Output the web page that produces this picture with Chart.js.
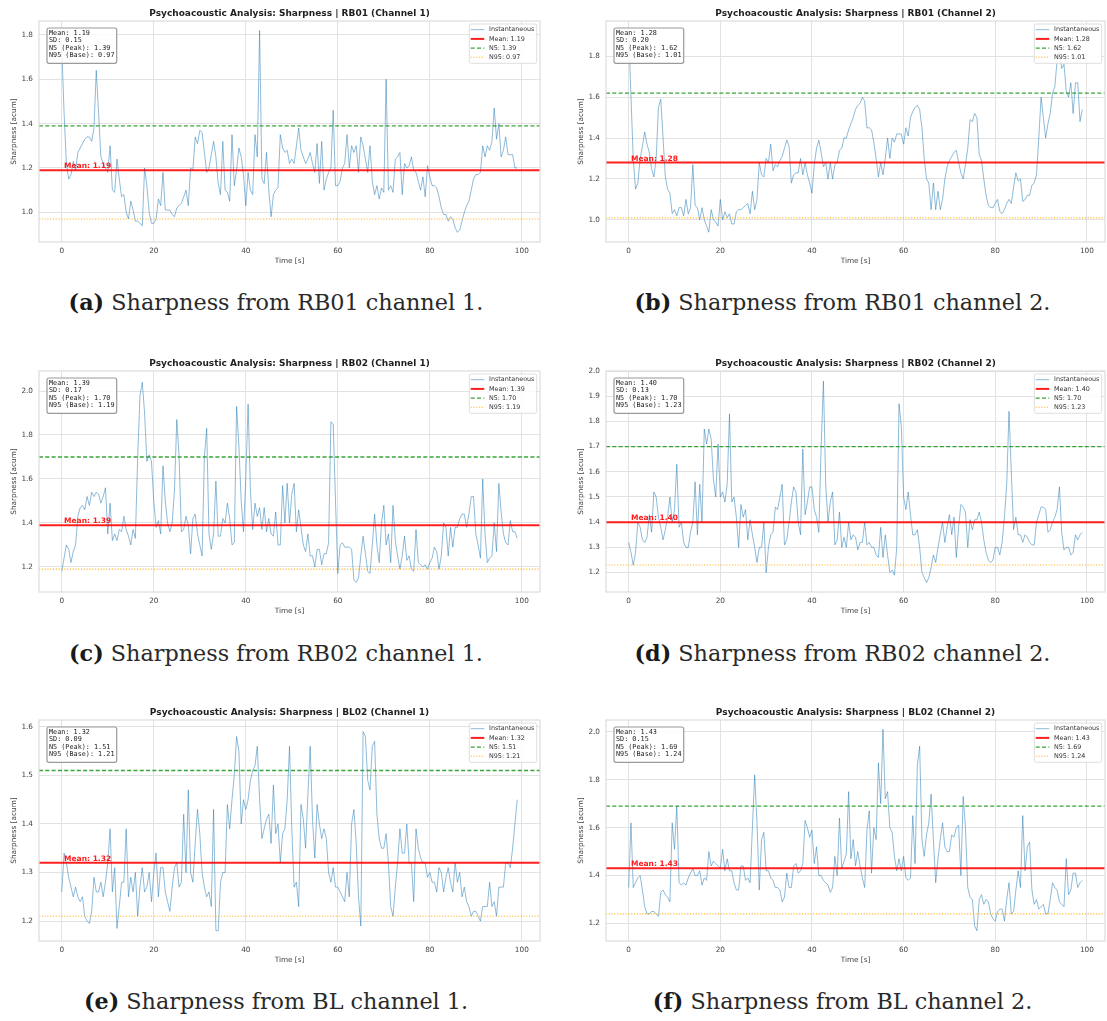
<!DOCTYPE html>
<html>
<head>
<meta charset="utf-8">
<script src="https://cdn.jsdelivr.net/npm/chart.js@4.4.1/dist/chart.umd.min.js"></script>
<style>
  html, body { margin: 0; padding: 0; background: #fff; }
  body { width: 1107px; height: 1021px; position: relative; overflow: hidden; }
  canvas.panel { position: absolute; }
  .caption {
    position: absolute;
    font-family: "DejaVu Serif", serif;
    font-size: 22.3px;
    line-height: 1;
    color: #2a2a2a;
    white-space: nowrap;
    transform: translate(-50%, -50%);
  }
  .caption b { font-weight: bold; color: #1a1a1a; }
</style>
</head>
<body>
<script>
// Sharpness tracks (acum), one value every SAMPLE_PERIOD_S seconds from t = 0 s
const SAMPLE_PERIOD_S = 0.5;

const rb01Ch1 = [
  1.74, 1.45, 1.22, 1.15, 1.17, 1.23, 1.19, 1.27, 1.29, 1.31,
  1.33, 1.34, 1.34, 1.32, 1.38, 1.64, 1.45, 1.25, 1.22, 1.20,
  1.18, 1.30, 1.10, 1.09, 1.24, 1.15, 1.07, 1.08, 1.00, 0.97,
  1.05, 1.01, 0.96, 0.96, 0.95, 0.94, 1.20, 1.12, 1.00, 0.95,
  0.95, 0.97, 1.06, 1.03, 1.18, 1.01, 1.01, 1.01, 0.99, 0.98,
  1.02, 1.03, 1.04, 1.07, 1.10, 1.03, 1.20, 1.19, 1.34, 1.31,
  1.37, 1.36, 1.27, 1.18, 1.20, 1.26, 1.32, 1.25, 1.13, 1.08,
  1.32, 1.10, 1.09, 1.05, 1.35, 1.12, 1.19, 1.29, 1.25, 1.17,
  1.03, 1.18, 1.10, 1.08, 1.35, 1.25, 1.82, 1.15, 1.13, 1.27,
  1.10, 0.98, 1.08, 1.10, 1.11, 1.35, 1.29, 1.27, 1.28, 1.22,
  1.24, 1.22, 1.30, 1.38, 1.28, 1.25, 1.22, 1.24, 1.27, 1.22,
  1.18, 1.31, 1.13, 1.32, 1.10, 1.15, 1.18, 1.20, 1.46, 1.12,
  1.12, 1.14, 1.20, 1.22, 1.35, 1.20, 1.30, 1.27, 1.30, 1.18,
  1.34, 1.30, 1.24, 1.18, 1.30, 1.14, 1.08, 1.12, 1.06, 1.11,
  1.09, 1.60, 1.10, 1.12, 1.09, 1.24, 1.25, 1.27, 1.08, 1.22,
  1.20, 1.21, 1.25, 1.19, 1.18, 1.14, 1.10, 1.16, 1.07, 1.21,
  1.16, 1.12, 1.12, 1.11, 1.07, 1.02, 0.99, 0.99, 0.96, 0.98,
  0.97, 0.93, 0.91, 0.92, 0.96, 1.00, 1.03, 1.05, 1.10, 1.15,
  1.17, 1.17, 1.18, 1.30, 1.25, 1.30, 1.28, 1.32, 1.47, 1.33,
  1.40, 1.25, 1.28, 1.34, 1.26, 1.26, 1.26, 1.20, 1.20
];

const rb01Ch2 = [
  1.92, 1.60, 1.30, 1.15, 1.18, 1.30, 1.36, 1.43, 1.37, 1.33,
  1.25, 1.21, 1.30, 1.55, 1.59, 1.40, 1.21, 1.15, 1.13, 1.03,
  1.05, 1.02, 1.06, 1.06, 1.02, 1.10, 1.03, 1.06, 1.27, 1.07,
  1.06, 1.00, 1.06, 1.00, 0.97, 0.94, 1.05, 1.00, 0.99, 0.97,
  1.10, 1.00, 1.04, 1.01, 1.03, 0.98, 0.98, 1.04, 1.05, 1.05,
  1.06, 1.07, 1.08, 1.03, 1.14, 1.05, 1.10, 1.28, 1.22, 1.21,
  1.30, 1.28, 1.37, 1.24, 1.27, 1.26, 1.29, 1.31, 1.35, 1.39,
  1.36, 1.18, 1.22, 1.23, 1.23, 1.30, 1.22, 1.28, 1.22, 1.18,
  1.13, 1.27, 1.35, 1.39, 1.33, 1.26, 1.28, 1.20, 1.28, 1.20,
  1.27, 1.28, 1.34, 1.35, 1.40, 1.40, 1.44, 1.47, 1.50, 1.54,
  1.56, 1.57, 1.60, 1.58, 1.45, 1.45, 1.44, 1.38, 1.30, 1.21,
  1.28, 1.22, 1.30, 1.40, 1.30, 1.40, 1.38, 1.42, 1.42, 1.42,
  1.37, 1.45, 1.41, 1.50, 1.53, 1.55, 1.56, 1.54, 1.45, 1.30,
  1.20, 1.18, 1.05, 1.18, 1.05, 1.14, 1.05, 1.10, 1.20, 1.26,
  1.29, 1.31, 1.33, 1.34, 1.28, 1.23, 1.20, 1.27, 1.35, 1.49,
  1.48, 1.52, 1.50, 1.32, 1.29, 1.20, 1.12, 1.07, 1.06, 1.06,
  1.08, 1.10, 1.04, 1.03, 1.05, 1.08, 1.10, 1.08, 1.16, 1.23,
  1.19, 1.20, 1.09, 1.10, 1.12, 1.12, 1.17, 1.18, 1.22, 1.40,
  1.60, 1.50, 1.40, 1.47, 1.52, 1.62, 1.65, 1.78, 1.82, 1.74,
  1.76, 1.63, 1.60, 1.67, 1.52, 1.67, 1.67, 1.48, 1.54
];

const rb02Ch1 = [
  1.18, 1.24, 1.30, 1.28, 1.22, 1.27, 1.30, 1.43, 1.47, 1.48,
  1.46, 1.52, 1.48, 1.54, 1.52, 1.54, 1.53, 1.49, 1.52, 1.56,
  1.35, 1.49, 1.32, 1.35, 1.32, 1.37, 1.36, 1.43, 1.37, 1.34,
  1.30, 1.37, 1.33, 1.70, 1.98, 2.04, 1.90, 1.68, 1.71, 1.68,
  1.50, 1.38, 1.41, 1.35, 1.66, 1.50, 1.40, 1.36, 1.40, 1.55,
  1.87, 1.70, 1.36, 1.37, 1.43, 1.39, 1.26, 1.42, 1.44, 1.35,
  1.30, 1.25, 1.70, 1.83, 1.35, 1.28, 1.35, 1.59, 1.34, 1.34,
  1.42, 1.40, 1.49, 1.42, 1.30, 1.31, 1.93, 1.75, 1.50, 1.36,
  1.60, 1.94, 1.55, 1.37, 1.49, 1.43, 1.47, 1.37, 1.47, 1.36,
  1.42, 1.35, 1.34, 1.45, 1.30, 1.30, 1.57, 1.40, 1.58, 1.40,
  1.53, 1.58, 1.36, 1.46, 1.38, 1.30, 1.27, 1.35, 1.25, 1.25,
  1.20, 1.28, 1.28, 1.21, 1.26, 1.26, 1.31, 1.86, 1.85, 1.50,
  1.17, 1.30, 1.31, 1.29, 1.29, 1.29, 1.28, 1.14, 1.13, 1.15,
  1.25, 1.34, 1.26, 1.18, 1.17, 1.30, 1.44, 1.30, 1.22, 1.40,
  1.48, 1.30, 1.35, 1.22, 1.48, 1.32, 1.25, 1.19, 1.25, 1.34,
  1.23, 1.25, 1.19, 1.18, 1.37, 1.22, 1.21, 1.20, 1.21, 1.19,
  1.22, 1.24, 1.29, 1.27, 1.19, 1.25, 1.40, 1.38, 1.25, 1.38,
  1.29, 1.38, 1.38, 1.42, 1.44, 1.44, 1.38, 1.44, 1.52, 1.52,
  1.35, 1.30, 1.24, 1.60, 1.35, 1.22, 1.24, 1.25, 1.40, 1.27,
  1.58, 1.45, 1.35, 1.31, 1.30, 1.41, 1.36, 1.36, 1.33
];

const rb02Ch2 = [
  1.32, 1.28, 1.23, 1.28, 1.40, 1.38, 1.33, 1.32, 1.34, 1.43,
  1.36, 1.52, 1.50, 1.42, 1.38, 1.33, 1.37, 1.42, 1.50, 1.40,
  1.45, 1.63, 1.38, 1.40, 1.32, 1.30, 1.30, 1.36, 1.40, 1.56,
  1.35, 1.55, 1.40, 1.77, 1.71, 1.77, 1.73, 1.57, 1.50, 1.71,
  1.50, 1.52, 1.48, 1.55, 1.83, 1.48, 1.50, 1.42, 1.30, 1.47,
  1.42, 1.45, 1.33, 1.41, 1.35, 1.30, 1.24, 1.30, 1.30, 1.40,
  1.20, 1.30, 1.35, 1.36, 1.46, 1.45, 1.50, 1.55, 1.31, 1.33,
  1.40, 1.48, 1.54, 1.52, 1.40, 1.35, 1.69, 1.43, 1.48, 1.54,
  1.54, 1.45, 1.42, 1.36, 1.70, 1.96, 1.55, 1.40, 1.48, 1.52,
  1.31, 1.33, 1.44, 1.30, 1.34, 1.30, 1.40, 1.33, 1.35, 1.34,
  1.29, 1.32, 1.32, 1.40, 1.31, 1.32, 1.30, 1.30, 1.27, 1.26,
  1.38, 1.26, 1.35, 1.27, 1.20, 1.21, 1.19, 1.30, 1.87, 1.78,
  1.50, 1.45, 1.52, 1.43, 1.35, 1.35, 1.37, 1.30, 1.20, 1.18,
  1.16, 1.18, 1.22, 1.27, 1.24, 1.30, 1.35, 1.40, 1.32, 1.38,
  1.43, 1.35, 1.42, 1.26, 1.38, 1.47, 1.46, 1.44, 1.30, 1.41,
  1.37, 1.41, 1.41, 1.44, 1.40, 1.33, 1.28, 1.25, 1.24, 1.25,
  1.30, 1.30, 1.27, 1.32, 1.42, 1.55, 1.84, 1.60, 1.37, 1.42,
  1.35, 1.35, 1.32, 1.35, 1.34, 1.32, 1.31, 1.31, 1.40, 1.43,
  1.46, 1.46, 1.45, 1.36, 1.37, 1.40, 1.42, 1.45, 1.54, 1.36,
  1.29, 1.30, 1.30, 1.27, 1.28, 1.35, 1.33, 1.35, 1.36
];

const bl02Ch1 = [
  1.26, 1.34, 1.32, 1.29, 1.27, 1.25, 1.27, 1.25, 1.24, 1.25,
  1.21, 1.20, 1.195, 1.22, 1.29, 1.26, 1.26, 1.28, 1.25, 1.28,
  1.32, 1.39, 1.26, 1.31, 1.185, 1.23, 1.28, 1.28, 1.39, 1.25,
  1.29, 1.26, 1.30, 1.21, 1.27, 1.31, 1.26, 1.27, 1.30, 1.24,
  1.30, 1.34, 1.25, 1.31, 1.31, 1.26, 1.24, 1.22, 1.27, 1.31,
  1.32, 1.27, 1.28, 1.42, 1.30, 1.47, 1.30, 1.28, 1.36, 1.43,
  1.38, 1.30, 1.27, 1.25, 1.26, 1.23, 1.43, 1.18, 1.18, 1.28,
  1.30, 1.30, 1.44, 1.39, 1.45, 1.50, 1.58, 1.55, 1.40, 1.45,
  1.43, 1.45, 1.49, 1.51, 1.52, 1.56, 1.45, 1.37, 1.39, 1.41,
  1.42, 1.36, 1.48, 1.38, 1.40, 1.32, 1.38, 1.39, 1.45, 1.56,
  1.39, 1.27, 1.28, 1.23, 1.44, 1.41, 1.35, 1.46, 1.56, 1.41,
  1.33, 1.44, 1.40, 1.37, 1.39, 1.37, 1.30, 1.28, 1.31, 1.27,
  1.27, 1.26, 1.25, 1.24, 1.30, 1.25, 1.40, 1.43, 1.36, 1.25,
  1.19, 1.59, 1.58, 1.49, 1.47, 1.56, 1.57, 1.42, 1.37, 1.35,
  1.35, 1.38, 1.32, 1.23, 1.21, 1.27, 1.32, 1.39, 1.34, 1.34,
  1.40, 1.32, 1.32, 1.24, 1.39, 1.35, 1.33, 1.32, 1.32, 1.29,
  1.30, 1.28, 1.28, 1.26, 1.31, 1.30, 1.26, 1.29, 1.31, 1.28,
  1.26, 1.32, 1.28, 1.30, 1.25, 1.27, 1.24, 1.23, 1.21, 1.22,
  1.22, 1.21, 1.20, 1.23, 1.23, 1.23, 1.28, 1.23, 1.24, 1.21,
  1.27, 1.27, 1.27, 1.32, 1.32, 1.31, 1.35, 1.40, 1.45
];

const bl02Ch2 = [
  1.35, 1.62, 1.35, 1.37, 1.39, 1.40, 1.34, 1.27, 1.24, 1.24,
  1.25, 1.25, 1.24, 1.23, 1.33, 1.34, 1.32, 1.31, 1.29, 1.62,
  1.51, 1.69, 1.37, 1.36, 1.37, 1.36, 1.39, 1.41, 1.43, 1.40,
  1.40, 1.42, 1.36, 1.39, 1.38, 1.50, 1.44, 1.46, 1.45, 1.44,
  1.43, 1.51, 1.42, 1.47, 1.42, 1.42, 1.37, 1.34, 1.34, 1.44,
  1.44, 1.38, 1.39, 1.37, 1.60, 1.82, 1.62, 1.34, 1.55, 1.58,
  1.42, 1.42, 1.39, 1.38, 1.35, 1.35, 1.34, 1.29, 1.31, 1.41,
  1.35, 1.35, 1.44, 1.45, 1.41, 1.42, 1.45, 1.63, 1.60, 1.56,
  1.59, 1.45, 1.52, 1.40, 1.40, 1.38, 1.37, 1.36, 1.33, 1.35,
  1.48, 1.40, 1.64, 1.43, 1.46, 1.49, 1.75, 1.47, 1.55, 1.44,
  1.50, 1.44, 1.39, 1.35, 1.59, 1.67, 1.41, 1.60, 1.55, 1.87,
  1.70, 2.01, 1.72, 1.75, 1.60, 1.58, 1.48, 1.42, 1.47, 1.42,
  1.48, 1.39, 1.38, 1.39, 1.65, 1.45, 1.86, 1.94, 1.55, 1.48,
  1.57, 1.62, 1.74, 1.55, 1.37, 1.47, 1.55, 1.62, 1.52, 1.50,
  1.50, 1.57, 1.56, 1.60, 1.61, 1.40, 1.73, 1.60, 1.35, 1.31,
  1.30, 1.19, 1.17, 1.30, 1.32, 1.28, 1.30, 1.29, 1.24, 1.22,
  1.21, 1.25, 1.26, 1.26, 1.21, 1.30, 1.37, 1.24, 1.25, 1.34,
  1.42, 1.35, 1.65, 1.42, 1.52, 1.54, 1.34, 1.28, 1.30, 1.26,
  1.27, 1.28, 1.24, 1.24, 1.30, 1.37, 1.35, 1.34, 1.29, 1.28,
  1.27, 1.47, 1.32, 1.34, 1.41, 1.41, 1.35, 1.37, 1.38
];

// Summary statistics per recording/channel (acum)
const meanValues = [1.19, 1.28, 1.39, 1.40, 1.32, 1.43];
const sdValues   = [0.15, 0.20, 0.17, 0.13, 0.09, 0.15];
const n5Values   = [1.39, 1.62, 1.70, 1.70, 1.51, 1.69];
const n95Values  = [0.97, 1.01, 1.19, 1.23, 1.21, 1.24];

// Labels
const recordingIds   = ['RB01', 'RB01', 'RB02', 'RB02', 'BL02', 'BL02'];
const channelNumbers = [1, 2, 1, 2, 1, 2];
const captionLetters = ['a', 'b', 'c', 'd', 'e', 'f'];
const captionSources = ['RB01', 'RB01', 'RB02', 'RB02', 'BL', 'BL'];

// Axis ranges and ticks
const timeRange = [-4.95, 103.95];
const timeTicks = [0, 20, 40, 60, 80, 100];
const yMinValues = [0.866, 0.892, 1.086, 1.123, 1.159, 1.127];
const yMaxValues = [1.863, 1.972, 2.091, 2.000, 1.614, 2.049];
const yTickSets = [
  [1.0, 1.2, 1.4, 1.6, 1.8],
  [1.0, 1.2, 1.4, 1.6, 1.8],
  [1.2, 1.4, 1.6, 1.8, 2.0],
  [1.2, 1.3, 1.4, 1.5, 1.6, 1.7, 1.8, 1.9, 2.0],
  [1.2, 1.3, 1.4, 1.5, 1.6],
  [1.2, 1.4, 1.6, 1.8, 2.0]
];

const sharpnessTracks = [rb01Ch1, rb01Ch2, rb02Ch1, rb02Ch2, bl02Ch1, bl02Ch2];

// ---- layout ----
const ROW_TOPS = [0, 350, 699];
const CANVAS_H = 270;
const COLUMNS = [
  { left: 0,   width: 550, axisW: 39, padRight: 10, yTitlePad: 9.6,  captionX: 276 },
  { left: 550, width: 557, axisW: 56, padRight: 2,  yTitlePad: 26.6, captionX: 842.5 }
];
const CAPTION_Y = [302, 653, 1001];

const SANS = '"DejaVu Sans", sans-serif';
const MONO = '"DejaVu Sans Mono", monospace';
const GRID_COLOR = '#e2e2e2';
const TEXT_COLOR = '#444';

function roundedRect(ctx, x, y, w, h, r) {
  ctx.beginPath();
  ctx.moveTo(x + r, y);
  ctx.lineTo(x + w - r, y);
  ctx.quadraticCurveTo(x + w, y, x + w, y + r);
  ctx.lineTo(x + w, y + h - r);
  ctx.quadraticCurveTo(x + w, y + h, x + w - r, y + h);
  ctx.lineTo(x + r, y + h);
  ctx.quadraticCurveTo(x, y + h, x, y + h - r);
  ctx.lineTo(x, y + r);
  ctx.quadraticCurveTo(x, y, x + r, y);
  ctx.closePath();
}

// Frame, mean annotation, statistics box and legend drawn inside the plot area
const panelDecor = {
  id: 'panelDecor',
  afterDatasetsDraw(chart, args, opts) {
    const ctx = chart.ctx;
    const ca = chart.chartArea;
    const xs = chart.scales.x, ys = chart.scales.y;
    ctx.save();

    // axes frame
    ctx.strokeStyle = '#dcdcdc';
    ctx.lineWidth = 1.2;
    ctx.setLineDash([]);
    ctx.strokeRect(ca.left, ca.top, ca.right - ca.left, ca.bottom - ca.top);

    // mean annotation
    ctx.fillStyle = '#ff1a1a';
    ctx.font = 'bold 7.5px ' + SANS;
    ctx.textAlign = 'left';
    ctx.textBaseline = 'alphabetic';
    ctx.fillText('Mean: ' + opts.mean.toFixed(2), xs.getPixelForValue(0.5), ys.getPixelForValue(opts.mean) - 2);

    // statistics box
    const sx = ca.left + 8, sy = ca.top + 7, sw = 69.7, sh = 35.3;
    roundedRect(ctx, sx, sy, sw, sh, 2);
    ctx.fillStyle = 'rgba(255,255,255,0.85)';
    ctx.fill();
    ctx.strokeStyle = '#9a9a9a';
    ctx.lineWidth = 1.2;
    ctx.stroke();
    ctx.fillStyle = '#222';
    ctx.font = '6.8px ' + MONO;
    ctx.textBaseline = 'middle';
    opts.statLines.forEach((t, i) => ctx.fillText(t, sx + 2, sy + 4.9 + i * 7.55));

    // legend
    const lw = 67.4, lh = 39.3;
    const lx = ca.right - 3.3 - lw, ly = ca.top + 3;
    roundedRect(ctx, lx, ly, lw, lh, 2);
    ctx.fillStyle = 'rgba(255,255,255,0.85)';
    ctx.fill();
    ctx.strokeStyle = '#d6d6d6';
    ctx.lineWidth = 0.8;
    ctx.stroke();
    ctx.font = '6.4px ' + SANS;
    ctx.textBaseline = 'middle';
    chart.data.datasets.forEach((ds, i) => {
      const cy = ly + 5.7 + i * 9.2;
      ctx.beginPath();
      ctx.setLineDash(ds.borderDash || []);
      ctx.strokeStyle = ds.borderColor;
      ctx.lineWidth = ds.borderWidth;
      ctx.moveTo(lx + 1.4, cy);
      ctx.lineTo(lx + 15, cy);
      ctx.stroke();
      ctx.setLineDash([]);
      ctx.fillStyle = '#333';
      ctx.fillText(ds.label, lx + 19.7, cy);
    });
    ctx.restore();
  }
};

function hLine(value) {
  return [{ x: timeRange[0], y: value }, { x: timeRange[1], y: value }];
}

sharpnessTracks.forEach((track, p) => {
  const col = COLUMNS[p % 2];
  const top = ROW_TOPS[Math.floor(p / 2)];

  const canvas = document.createElement('canvas');
  canvas.className = 'panel';
  canvas.width = col.width;
  canvas.height = CANVAS_H;
  canvas.style.left = col.left + 'px';
  canvas.style.top = top + 'px';
  canvas.style.width = col.width + 'px';
  canvas.style.height = CANVAS_H + 'px';
  document.body.appendChild(canvas);

  const points = track.map((v, i) => ({ x: i * SAMPLE_PERIOD_S, y: v }));
  const yTicks = yTickSets[p];

  new Chart(canvas, {
    type: 'line',
    data: {
      datasets: [
        { label: 'Instantaneous', data: points, borderColor: 'rgba(31,119,180,0.5)', borderWidth: 1, order: 4 },
        { label: 'Mean: ' + meanValues[p].toFixed(2), data: hLine(meanValues[p]), borderColor: 'rgba(255,0,0,0.88)', borderWidth: 2, order: 3 },
        { label: 'N5: ' + n5Values[p].toFixed(2), data: hLine(n5Values[p]), borderColor: 'rgba(20,150,20,0.85)', borderWidth: 1.3, borderDash: [4, 2.3], order: 2 },
        { label: 'N95: ' + n95Values[p].toFixed(2), data: hLine(n95Values[p]), borderColor: 'rgba(255,165,0,0.85)', borderWidth: 1.1, borderDash: [1.1, 1.7], order: 1 }
      ]
    },
    options: {
      responsive: false,
      animation: false,
      devicePixelRatio: 1,
      events: [],
      elements: { point: { radius: 0 }, line: { tension: 0, fill: false } },
      layout: { padding: { left: 0, right: col.padRight, top: 0, bottom: 0 } },
      plugins: {
        legend: { display: false },
        tooltip: { enabled: false },
        title: {
          display: true,
          fullSize: false,
          text: 'Psychoacoustic Analysis: Sharpness | ' + recordingIds[p] + ' (Channel ' + channelNumbers[p] + ')',
          color: '#1e1e1e',
          font: { family: SANS, size: 9, weight: 'bold', lineHeight: 1.2 },
          padding: { top: 8.6, bottom: 1.6 }
        },
        panelDecor: {
          mean: meanValues[p],
          statLines: [
            'Mean: ' + meanValues[p].toFixed(2),
            'SD: ' + sdValues[p].toFixed(2),
            'N5 (Peak): ' + n5Values[p].toFixed(2),
            'N95 (Base): ' + n95Values[p].toFixed(2)
          ]
        }
      },
      scales: {
        x: {
          type: 'linear',
          min: timeRange[0],
          max: timeRange[1],
          bounds: 'data',
          afterBuildTicks: s => { s.ticks = timeTicks.map(v => ({ value: v })); },
          afterFit: s => { s.height = CANVAS_H - 242; },
          grid: { color: GRID_COLOR, lineWidth: 1, drawTicks: false },
          border: { display: false },
          ticks: { padding: 4.3, maxRotation: 0, autoSkip: false, color: TEXT_COLOR, font: { family: SANS, size: 7.3 }, callback: v => String(v) },
          title: { display: true, text: 'Time [s]', color: TEXT_COLOR, font: { family: SANS, size: 7.3 }, padding: { top: 0, bottom: 4.6 } }
        },
        y: {
          type: 'linear',
          min: yMinValues[p],
          max: yMaxValues[p],
          bounds: 'data',
          afterBuildTicks: s => { s.ticks = yTicks.map(v => ({ value: v })); },
          afterFit: s => { s.width = col.axisW; },
          grid: { color: GRID_COLOR, lineWidth: 1, drawTicks: false },
          border: { display: false },
          ticks: { padding: 6, autoSkip: false, color: TEXT_COLOR, font: { family: SANS, size: 7.3 }, callback: v => Number(v).toFixed(1) },
          title: { display: true, text: 'Sharpness [acum]', color: TEXT_COLOR, font: { family: SANS, size: 7.3 }, padding: { top: col.yTitlePad, bottom: 0 } }
        }
      }
    },
    plugins: [panelDecor]
  });

  const cap = document.createElement('div');
  cap.className = 'caption';
  cap.style.left = col.captionX + 'px';
  cap.style.top = CAPTION_Y[Math.floor(p / 2)] + 'px';
  cap.innerHTML = '<b>(' + captionLetters[p] + ')</b> Sharpness from ' + captionSources[p] + ' channel ' + channelNumbers[p] + '.';
  document.body.appendChild(cap);
});
</script>
</body>
</html>
